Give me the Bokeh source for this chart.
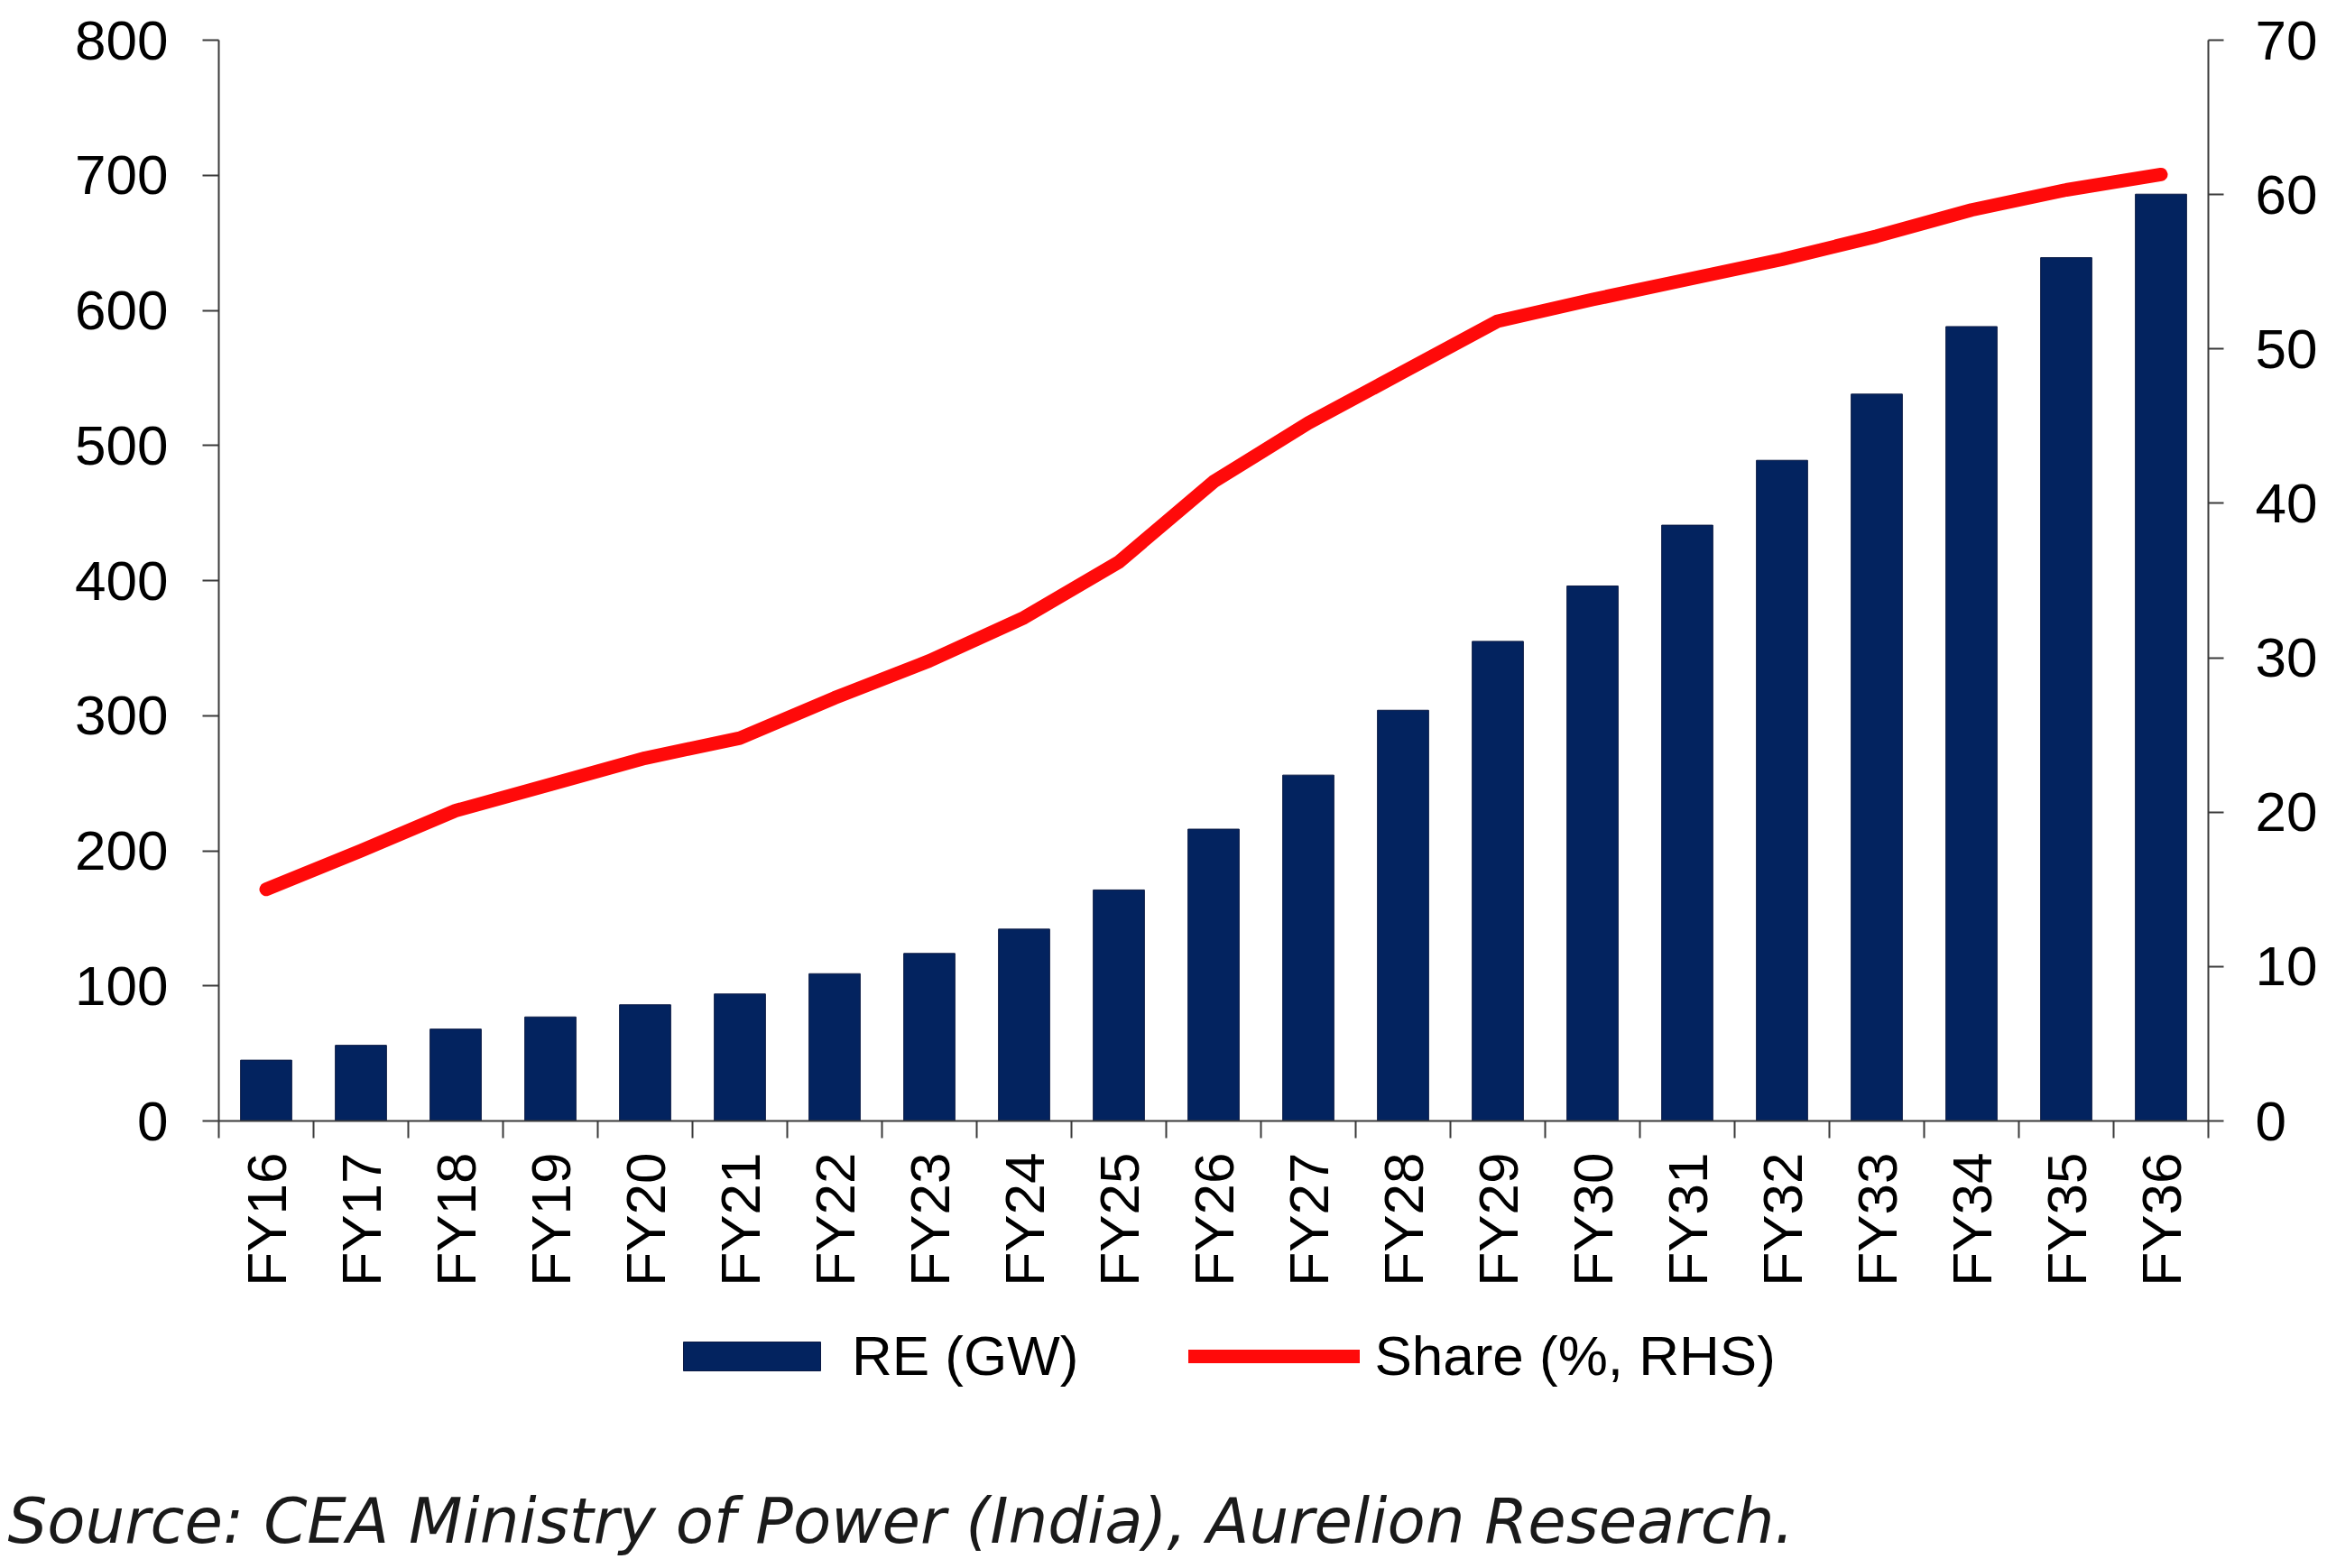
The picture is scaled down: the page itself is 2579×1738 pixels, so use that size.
import math
from bokeh.plotting import figure
from bokeh.layouts import column
from bokeh.models import (Range1d, LinearAxis, FixedTicker, Legend, LegendItem, Title)
from bokeh.embed import file_html
from bokeh.resources import INLINE

# ---- data ----
categories = ["FY16", "FY17", "FY18", "FY19", "FY20", "FY21", "FY22", "FY23", "FY24", "FY25",
              "FY26", "FY27", "FY28", "FY29", "FY30", "FY31", "FY32", "FY33", "FY34", "FY35", "FY36"]
re_gw = [45, 56, 68, 77, 86, 94, 109, 124, 142, 171,
         216, 256, 304, 355, 396, 441, 489, 538, 588, 639, 686]
share_pct = [15.0, 17.5, 20.1, 21.8, 23.5, 24.8, 27.4, 29.8, 32.6, 36.2,
             41.4, 45.2, 48.5, 51.8, 53.2, 54.5, 55.8, 57.3, 59.0, 60.3, 61.3]
left_ticks = [0, 100, 200, 300, 400, 500, 600, 700, 800]
right_ticks = [0, 10, 20, 30, 40, 50, 60, 70]
series_names = ["RE (GW)", "Share (%, RHS)"]
source_text = "Source: CEA Ministry of Power (India), Aurelion Research."

xs = list(range(len(categories)))
boundaries = [i - 0.5 for i in range(len(categories) + 1)]

FONT = "Liberation Sans"
TICK_SIZE = "62px"
AXIS_COLOR = "#3a3a3a"
BAR_STYLE = dict(fill_color="#03235f", line_color="#0b1a44", line_width=1)
LINE_STYLE = dict(line_color="#ff0a0a", line_width=15, line_cap="round", line_join="round")
W = 2571

p = figure(width=W, height=1440, output_backend="svg", toolbar_location=None,
           x_range=Range1d(-0.5, len(categories) - 0.5), y_range=Range1d(0, 800),
           min_border_left=242, min_border_right=123, min_border_top=44, min_border_bottom=198,
           background_fill_color="white", border_fill_color="white")
p.outline_line_color = None
p.grid.visible = False
p.extra_y_ranges = {"share": Range1d(0, 70)}

p.vbar(x=xs, top=re_gw, width=0.54, **BAR_STYLE)
p.line(x=xs, y=share_pct, y_range_name="share", **LINE_STYLE)

# x axis
xa = p.xaxis[0]
xa.ticker = FixedTicker(ticks=xs, minor_ticks=boundaries)
xa.major_label_overrides = {i: c for i, c in zip(xs, categories)}
xa.major_label_orientation = math.pi / 2
xa.major_tick_out = 0
xa.major_tick_in = 0
xa.minor_tick_out = 19
xa.minor_tick_in = 0
xa.minor_tick_line_color = AXIS_COLOR
xa.minor_tick_line_width = 2
xa.axis_line_color = AXIS_COLOR
xa.axis_line_width = 2
xa.major_label_text_font = FONT
xa.major_label_text_font_size = TICK_SIZE
xa.major_label_text_color = "black"
xa.major_label_standoff = 16

# left axis
ya = p.yaxis[0]
ya.ticker = FixedTicker(ticks=left_ticks)
ya.major_tick_out = 18
ya.major_tick_in = 0
ya.minor_tick_out = 0
ya.minor_tick_in = 0
ya.major_tick_line_color = AXIS_COLOR
ya.major_tick_line_width = 2
ya.axis_line_color = AXIS_COLOR
ya.axis_line_width = 2
ya.major_label_text_font = FONT
ya.major_label_text_font_size = TICK_SIZE
ya.major_label_text_color = "black"
ya.major_label_standoff = 38

# right axis
ra = LinearAxis(y_range_name="share", ticker=FixedTicker(ticks=right_ticks))
ra.major_tick_out = 17
ra.major_tick_in = 0
ra.minor_tick_out = 0
ra.minor_tick_in = 0
ra.major_tick_line_color = AXIS_COLOR
ra.major_tick_line_width = 2
ra.axis_line_color = AXIS_COLOR
ra.axis_line_width = 2
ra.major_label_text_font = FONT
ra.major_label_text_font_size = TICK_SIZE
ra.major_label_text_color = "black"
ra.major_label_standoff = 35
p.add_layout(ra, "right")

# ---- bottom strip: legend + source ----
H2 = 290
p2 = figure(width=W, height=H2, output_backend="svg", toolbar_location=None,
            x_range=Range1d(100, 101), y_range=Range1d(-2, -1),
            x_axis_location=None, y_axis_location=None,
            min_border_left=0, min_border_right=0, min_border_top=0, min_border_bottom=0,
            background_fill_color="white", border_fill_color="white")
p2.outline_line_color = None
p2.grid.visible = False
# legend proxies: same series and styles, not drawn in this strip
lg_bar = p2.vbar(x=xs, top=re_gw, width=0.54, visible=False, **BAR_STYLE)
lg_line = p2.line(x=xs, y=share_pct, visible=False, **LINE_STYLE)

src = Title(text=source_text, align="left", offset=-234, standoff=10,
            text_font="DejaVu Sans", text_font_style="italic", text_font_size="69px",
            text_color="#1a1a1a")
p2.add_layout(src, "below")

legend = Legend(items=[LegendItem(label=series_names[0], renderers=[lg_bar]),
                       LegendItem(label=series_names[1], renderers=[lg_line])],
                orientation="horizontal", location=(496, 100),
                glyph_width=190, glyph_height=40, label_standoff=16, spacing=122,
                padding=0, margin=0, border_line_color=None, background_fill_alpha=0,
                label_text_font=FONT, label_text_font_size="62px", label_text_color="black")
p2.add_layout(legend, "center")

layout = column(p, p2, spacing=0)
open("out.html", "w").write(file_html(layout, INLINE))
